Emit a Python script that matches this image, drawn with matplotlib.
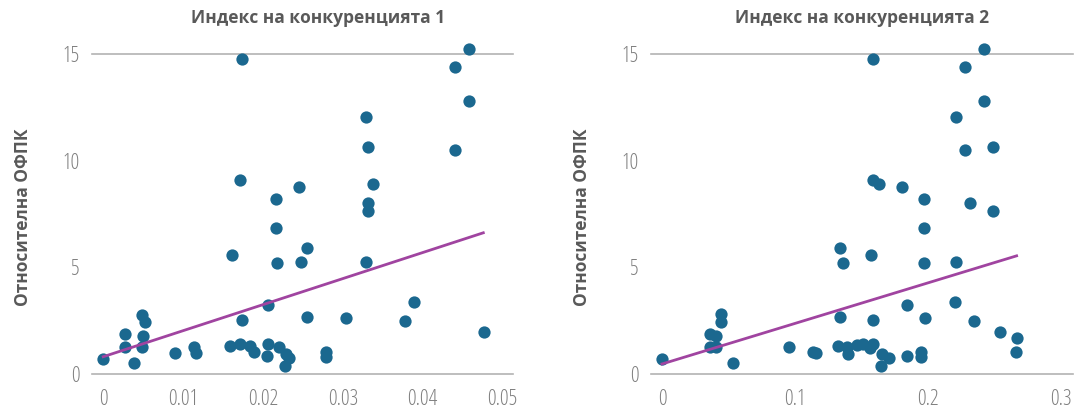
import matplotlib
matplotlib.use('Agg')
import matplotlib.pyplot as plt

plt.rcParams['font.family'] = ['Open Sans', 'DejaVu Sans']

titles = ['Индекс на конкуренцията 1', 'Индекс на конкуренцията 2']
ylabel = 'Относителна ОФПК'

# panel 1: competition index 1 vs relative TFP
x1 = [0.01734, 0.04575, 0.0440, 0.04575, 0.0329, 0.0332, 0.0441, 0.01713, 0.02446, 0.0217,
      0.03384, 0.0332, 0.0332, 0.0217, 0.01608, 0.02546, 0.02175, 0.02471, 0.03288, 0.02058,
      0.03896, 0.01733, 0.02546, 0.03046, 0.0378, 0.04763, 0.00483, 0.00525, 0.00267, 0.00492,
      0.00267, 0.0049, 0.0038, 0.0, 0.0090, 0.01138, 0.01163, 0.01588, 0.01713, 0.01838,
      0.01888, 0.02058, 0.02046, 0.02204, 0.02283, 0.02329, 0.02275, 0.02796, 0.02796]
y1 = [14.75, 15.23, 14.38, 12.81, 12.05, 10.64, 10.5, 9.11, 8.78, 8.22,
      8.89, 8.0, 7.64, 6.85, 5.59, 5.91, 5.19, 5.25, 5.27, 3.22,
      3.39, 2.52, 2.69, 2.64, 2.48, 1.95, 2.78, 2.42, 1.89, 1.78,
      1.28, 1.28, 0.53, 0.72, 1.0, 1.28, 1.0, 1.31, 1.41, 1.31,
      1.03, 1.41, 0.84, 1.25, 0.94, 0.73, 0.37, 1.03, 0.78]

# panel 2: competition index 2 vs relative TFP
x2 = [0.2419, 0.1586, 0.2278, 0.2419, 0.2208, 0.2491, 0.2278, 0.1586, 0.1634, 0.1802,
      0.1967, 0.2318, 0.2491, 0.1967, 0.1336, 0.1574, 0.1358, 0.1967, 0.2208, 0.1840,
      0.2203, 0.1336, 0.1584, 0.1977, 0.2348, 0.2539, 0.2667, 0.2662, 0.0441, 0.0441,
      0.0361, 0.0404, 0.0361, 0.0404, 0.0531, 0.0, 0.0952, 0.1138, 0.1158, 0.1326,
      0.1388, 0.1401, 0.1464, 0.1514, 0.1564, 0.1589, 0.1652, 0.1709, 0.1647, 0.1840,
      0.1945, 0.1945]
y2 = [15.23, 14.75, 14.38, 12.81, 12.05, 10.64, 10.5, 9.11, 8.89, 8.78,
      8.22, 8.0, 7.64, 6.85, 5.91, 5.59, 5.22, 5.19, 5.27, 3.22,
      3.39, 2.69, 2.52, 2.64, 2.48, 1.95, 1.70, 1.03, 2.8, 2.42,
      1.89, 1.78, 1.28, 1.28, 0.53, 0.72, 1.28, 1.03, 1.0, 1.31,
      1.28, 0.94, 1.35, 1.41, 1.2, 1.41, 0.94, 0.73, 0.37, 0.84,
      1.05, 0.78]

# linear trend lines (intercept, slope) and x-range
trend1 = (0.81, 122.0)
trend2 = (0.47, 19.0)
trend_x1 = [0.0, 0.0476]
trend_x2 = [0.0, 0.2667]

xticks1 = [0, 0.01, 0.02, 0.03, 0.04, 0.05]
xticks2 = [0, 0.1, 0.2, 0.3]
yticks = [0, 5, 10, 15]

dot_color = '#1b688f'
line_color = '#a044a0'
grey = '#808080'

fig = plt.figure(figsize=(10.79, 4.12), dpi=100)
ax1 = fig.add_axes([0.0853, 0.0922, 0.390, 0.777])
ax2 = fig.add_axes([0.6033, 0.0922, 0.391, 0.777])

panels = [
    (ax1, x1, y1, trend1, trend_x1, xticks1, ['0', '0.01', '0.02', '0.03', '0.04', '0.05'], (-0.0014, 0.0513), 0.537),
    (ax2, x2, y2, trend2, trend_x2, xticks2, ['0', '0.1', '0.2', '0.3'], (-0.0083, 0.309), 0.5),
]

for i, (ax, xs, ys, tr, tx, xt, xtl, xl, tpos) in enumerate(panels):
    ax.scatter(xs, ys, s=78, color=dot_color, zorder=3, clip_on=False, linewidths=0)
    ty = [tr[0] + tr[1] * v for v in tx]
    ax.plot(tx, ty, color=line_color, lw=2, zorder=4)
    ax.set_xlim(*xl)
    ax.set_ylim(0, 15)
    ax.set_xticks(xt)
    ax.set_xticklabels(xtl)
    ax.set_yticks(yticks)
    for s in ['left', 'right']:
        ax.spines[s].set_visible(False)
    for s in ['top', 'bottom']:
        ax.spines[s].set_color('#b3b3b3')
        ax.spines[s].set_linewidth(1.2)
    ax.tick_params(axis='both', length=0, labelsize=15.5, labelcolor=grey)
    ax.tick_params(axis='x', pad=11)
    ax.tick_params(axis='y', pad=9)
    for lab in ax.get_xticklabels() + ax.get_yticklabels():
        lab.set_fontweight('light')
        lab.set_fontstretch('condensed')
    ax.set_title(titles[i], fontsize=12.5, fontweight='bold', color='#595959', pad=22, x=tpos)
    ax.set_ylabel(ylabel, fontsize=12.5, fontweight='bold', color='#595959', labelpad=22)
    ax.yaxis.label.set_y(0.49)

fig.savefig('out.png', dpi=100)
